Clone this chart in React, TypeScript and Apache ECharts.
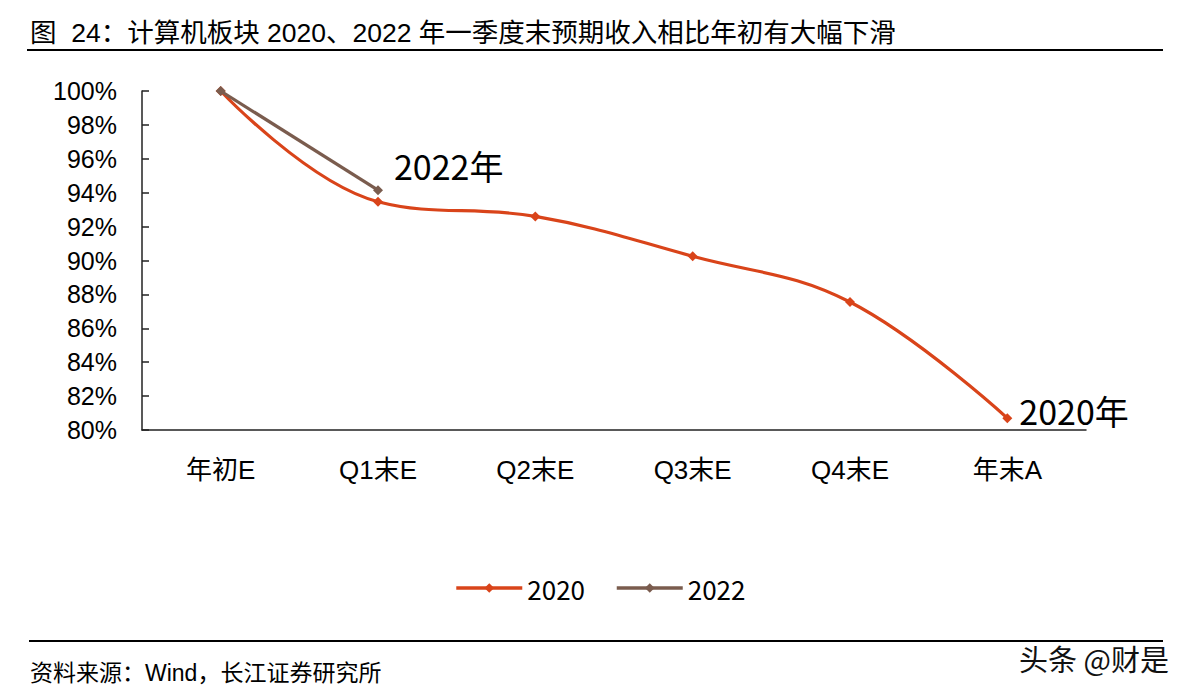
import React, { useEffect, useRef } from "react";
import * as echarts from "echarts";

const categories = ["年初E", "Q1末E", "Q2末E", "Q3末E", "Q4末E", "年末A"];
const values2020 = [100, 93.47, 92.6, 90.25, 87.55, 80.7];
const values2022: (number | null)[] = [100, 94.15, null, null, null, null];
const yTicks = { min: 80, max: 100, interval: 2 };
const titleText = "图  24：计算机板块 2020、2022 年一季度末预期收入相比年初有大幅下滑";
const sourceText = "资料来源：Wind，长江证券研究所";
const watermark = "头条 @财是";

const C2020 = "#D9441A";
const C2022 = "#7A5C4E";
const FONT = "'Liberation Sans', Arial, 'Noto Sans CJK SC', sans-serif";
const ANNO_FONT = "'Noto Sans CJK SC', sans-serif";

export default function App() {
  const ref = useRef<HTMLDivElement>(null);
  useEffect(() => {
    if (!ref.current) return;
    const chart = echarts.init(ref.current, null, { renderer: "svg" });
    const lastIdx = values2020.length - 1;
    chart.setOption({
      animation: false,
      backgroundColor: "#fff",
      grid: { left: 142, right: 114, top: 91, bottom: 268 },
      legend: {
        bottom: 92,
        left: "center",
        itemWidth: 66,
        itemHeight: 12,
        itemGap: 30,
        lineStyle: { width: 3.5 },
        textStyle: { fontSize: 26, color: "#000", fontFamily: ANNO_FONT },
        data: ["2020", "2022"],
      },
      xAxis: {
        type: "category",
        data: categories,
        boundaryGap: true,
        axisLine: { lineStyle: { color: "#222", width: 1.5 } },
        axisTick: { inside: true, length: 7, alignWithLabel: false, lineStyle: { color: "#222", width: 1.5 } },
        axisLabel: { fontSize: 26, color: "#000", margin: 27, fontFamily: FONT },
      },
      yAxis: {
        type: "value",
        min: yTicks.min,
        max: yTicks.max,
        interval: yTicks.interval,
        splitLine: { show: false },
        axisLine: { show: true, lineStyle: { color: "#222", width: 1.5 } },
        axisTick: { show: true, inside: true, length: 7, lineStyle: { color: "#222", width: 1.5 } },
        axisLabel: {
          fontSize: 25,
          color: "#000",
          margin: 25,
          fontFamily: FONT,
          formatter: (v: number) => `${v}%`,
        },
      },
      series: [
        {
          name: "2020",
          type: "line",
          smooth: 0.4,
          symbol: "diamond",
          symbolSize: 10,
          lineStyle: { color: C2020, width: 3.2 },
          itemStyle: { color: C2020 },
          data: values2020.map((v, i) =>
            i === lastIdx
              ? {
                  value: v,
                  label: {
                    show: true,
                    formatter: "2020年",
                    position: "right",
                    distance: 4,
                    offset: [3, -8],
                    fontSize: 34,
                    color: "#000",
                    fontFamily: ANNO_FONT,
                  },
                }
              : v
          ),
          z: 2,
        },
        {
          name: "2022",
          type: "line",
          symbol: "diamond",
          symbolSize: 10,
          lineStyle: { color: C2022, width: 3.2 },
          itemStyle: { color: C2022 },
          data: values2022.map((v, i) =>
            i === 1
              ? {
                  value: v,
                  label: {
                    show: true,
                    formatter: "2022年",
                    position: "right",
                    distance: 5,
                    offset: [6, -25],
                    fontSize: 34,
                    color: "#000",
                    fontFamily: ANNO_FONT,
                  },
                }
              : v
          ),
          z: 3,
        },
      ],
      graphic: [
        {
          type: "text",
          left: 30,
          top: 20,
          style: { text: titleText, fontSize: 26.5, fill: "#000", fontFamily: FONT },
        },
        {
          type: "line",
          shape: { x1: 27, y1: 50, x2: 1163, y2: 50 },
          style: { stroke: "#000", lineWidth: 2 },
        },
        {
          type: "line",
          shape: { x1: 29, y1: 641, x2: 1163, y2: 641 },
          style: { stroke: "#000", lineWidth: 2 },
        },
        {
          type: "text",
          left: 30,
          top: 661,
          style: { text: sourceText, fontSize: 23, fill: "#000", fontFamily: FONT },
        },
        {
          type: "text",
          left: 1019,
          top: 643,
          style: { text: watermark, fontSize: 29, fill: "#111", fontFamily: ANNO_FONT },
        },
      ],
    });
    return () => chart.dispose();
  }, []);
  return (
    <div
      ref={ref}
      style={{ position: "absolute", left: 0, top: 0, width: 1200, height: 698, background: "#fff" }}
    />
  );
}
